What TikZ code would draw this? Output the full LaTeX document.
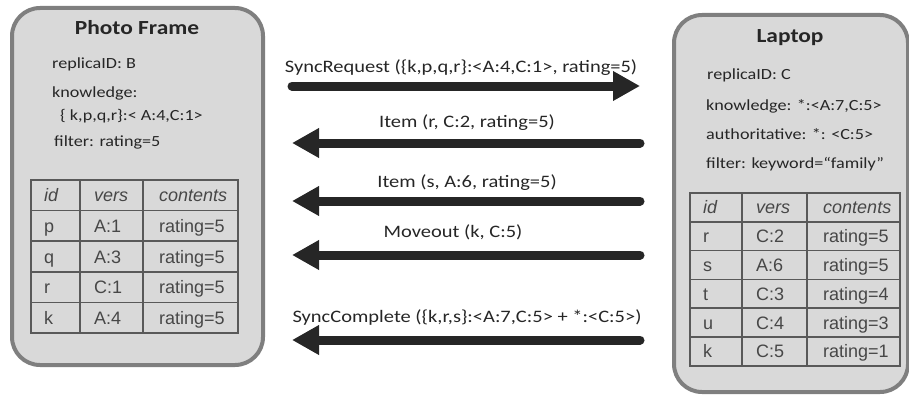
\documentclass[tikz,border=0pt]{standalone}
\usepackage{fontspec}
\setmainfont[FakeStretch=1.17]{Carlito}
\newfontfamily\tablefont{Liberation Sans}
\usetikzlibrary{arrows.meta}
\definecolor{boxfill}{HTML}{D9D9D9}
\definecolor{boxline}{HTML}{7F7F7F}
\definecolor{gridline}{HTML}{595959}
\definecolor{ink}{HTML}{262626}
\tikzset{x=1pt, y=-1pt,
  replica box/.style={draw=boxline, fill=boxfill, line width=4pt,
        rounded corners=28pt, anchor=north west, inner sep=0pt},
  box title/.style={anchor=base, text=ink, font=\fontsize{20}{24}\selectfont\bfseries},
  box text/.style={anchor=base west, text=ink, inner sep=0pt,
        font=\fontsize{15.5}{18}\selectfont},
  cell/.style={anchor=base west, text=ink!85, inner sep=0pt,
        font=\fontsize{18}{20}\selectfont\tablefont},
  grid line/.style={draw=gridline, line width=1.6pt},
  message/.style={draw=ink, line width=9pt, line cap=round,
        -{Triangle[length=27pt,width=28pt]}},
  message label/.style={anchor=base, text=ink, inner sep=0pt,
        font=\fontsize{17.5}{20}\selectfont}
}
% #1 table, #2 row, #3 id, #4 vers, #5 contents
\def\ItemRow#1#2#3#4#5{%
  \draw[grid line] (0,#2*\rowh) -- (\tabw,#2*\rowh);
  \node[cell] (#1-#3-id) at (13,#2*\rowh+0.5*\rowh+6.5) {#3};
  \node[cell] (#1-#3-vers) at (\colB+14,#2*\rowh+0.5*\rowh+6.5) {#4};
  \node[cell] (#1-#3-cont) at (\colC+16,#2*\rowh+0.5*\rowh+6.5) {#5};
}
\def\ItemTable#1#2{%
  \node[cell, font=\fontsize{18}{20}\selectfont\tablefont\itshape] (#1-hd-id) at (13,0.5*\rowh+6.5) {id};
  \node[cell, font=\fontsize{18}{20}\selectfont\tablefont\itshape] (#1-hd-vers) at (\colB+14,0.5*\rowh+6.5) {vers};
  \node[cell, font=\fontsize{18}{20}\selectfont\tablefont\itshape] (#1-hd-cont) at (\colC+16,0.5*\rowh+6.5) {contents};
  \draw[grid line] (\colB,0) -- (\colB,#2*\rowh);
  \draw[grid line] (\colC,0) -- (\colC,#2*\rowh);
  \draw[grid line, line width=2.6pt] (0,0) rectangle (\tabw,#2*\rowh);
}

\begin{document}
\begin{tikzpicture}
\useasboundingbox (0,0) rectangle (909,396);

% photo frame
\node[replica box, minimum width=251pt, minimum height=357pt] (frame) at (10,6) {};
\node[box title] (frame-title) at (137,35) {Photo Frame};
\node[box text] (frame-id) at (52,68) {replicaID: B};
\node[box text] (frame-know) at (52,97) {knowledge:};
\node[box text] (frame-knowv) at (60,120) {\{ k,p,q,r\}:< A:4,C:1>};
\node[box text] (frame-filter) at (54,146) {filter: rating=5};
\begin{scope}[shift={(31,180)}]
  \def\rowh{30.6}\def\tabw{207}\def\colB{49}\def\colC{112}
  \ItemRow{B}{1}{p}{A:1}{rating=5}
  \ItemRow{B}{2}{q}{A:3}{rating=5}
  \ItemRow{B}{3}{r}{C:1}{rating=5}
  \ItemRow{B}{4}{k}{A:4}{rating=5}
  \ItemTable{B}{5}
\end{scope}

% laptop
\node[replica box, minimum width=234pt, minimum height=377pt] (laptop) at (672,13) {};
\node[box title] (laptop-title) at (790,43) {Laptop};
\node[box text] (laptop-id) at (707,79) {replicaID: C};
\node[box text] (laptop-know) at (706,110) {knowledge: *:<A:7,C:5>};
\node[box text] (laptop-auth) at (706,139) {authoritative: *: <C:5>};
\node[box text] (laptop-filter) at (706,168) {filter: keyword=“family”};
\begin{scope}[shift={(690,193)}]
  \def\rowh{28.8}\def\tabw{210}\def\colB{52}\def\colC{117}
  \ItemRow{C}{1}{r}{C:2}{rating=5}
  \ItemRow{C}{2}{s}{A:6}{rating=5}
  \ItemRow{C}{3}{t}{C:3}{rating=4}
  \ItemRow{C}{4}{u}{C:4}{rating=3}
  \ItemRow{C}{5}{k}{C:5}{rating=1}
  \ItemTable{C}{6}
\end{scope}

% messages
\coordinate (req-from) at (292,86);   \coordinate (req-to) at (640,86);
\coordinate (item1-from) at (640,143); \coordinate (item1-to) at (292,143);
\coordinate (item2-from) at (640,201); \coordinate (item2-to) at (292,201);
\coordinate (move-from) at (640,255);  \coordinate (move-to) at (292,255);
\coordinate (done-from) at (640,340);  \coordinate (done-to) at (292,340);
\node[message label] (req-label) at (461,72) {SyncRequest (\{k,p,q,r\}:<A:4,C:1>, rating=5)};
\node[message label] (item1-label) at (467,127) {Item (r, C:2, rating=5)};
\node[message label] (item2-label) at (467,187) {Item (s, A:6, rating=5)};
\node[message label] (move-label) at (453,237) {Moveout (k, C:5)};
\node[message label] (done-label) at (467,322) {SyncComplete (\{k,r,s\}:<A:7,C:5> + *:<C:5>)};
\draw[message] (req-from) -- (req-to);
\draw[message] (item1-from) -- (item1-to);
\draw[message] (item2-from) -- (item2-to);
\draw[message] (move-from) -- (move-to);
\draw[message] (done-from) -- (done-to);
\end{tikzpicture}
\end{document}
